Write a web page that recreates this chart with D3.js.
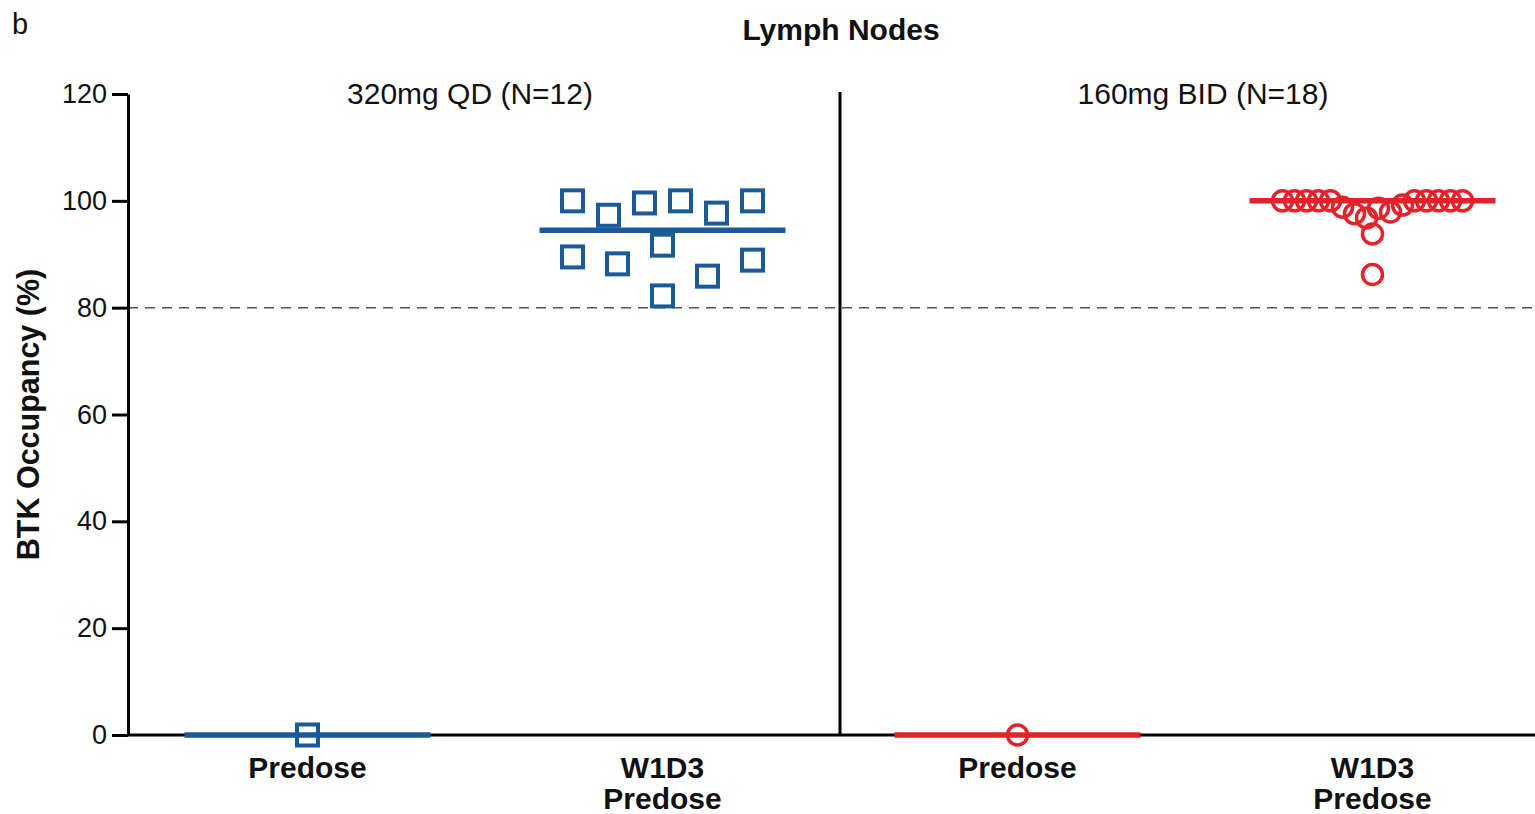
<!DOCTYPE html>
<html>
<head>
    <title>BTK Occupancy - Lymph Nodes</title>
    <script src="https://d3js.org/d3.v7.min.js"></script>
    <style>
        body { margin: 0; background: #fff; }
        text { font-family: "Liberation Sans", Arial, sans-serif; fill: #111; }
    </style>
</head>
<body>
    <script>
        // data (patients kept in plotted order)
        var categories = ["QD-Predose", "QD-W1D3", "BID-Predose", "BID-W1D3"];
        var tickLabels = [["Predose"], ["W1D3", "Predose"], ["Predose"], ["W1D3", "Predose"]];
        var panelLabels = ["320mg QD (N=12)", "160mg BID (N=18)"];
        var yTicks = [0, 20, 40, 60, 80, 100, 120];
        var threshold = 80;

        // predose occupancy is 0 for every patient (drawn as one marker)
        var qdPredose = [0];
        var qdW1D3 = [89.5, 100, 97.3, 88.2, 99.6, 91.7, 82.2, 100, 85.9, 97.7, 100, 88.9];
        var bidPredose = [0];
        var bidW1D3 = [100, 100, 100, 100, 100, 98.8, 97.6, 96.8, 93.8, 86.2,
                       98.6, 97.9, 99.2, 100, 100, 100, 100, 100];

        var groups = [
            {cat: categories[0], values: qdPredose, shape: "square", color: "#1b5a98"},
            {cat: categories[1], values: qdW1D3, shape: "square", color: "#1b5a98"},
            {cat: categories[2], values: bidPredose, shape: "circle", color: "#e3222a"},
            {cat: categories[3], values: bidW1D3, shape: "circle", color: "#e3222a"}
        ];

        var width = 1535, height = 814;
        var svg = d3.select("body").append("svg")
                    .attr("width", width)
                    .attr("height", height);

        var y = d3.scaleLinear().domain([0, 120]).range([735, 94]);
        var x = d3.scalePoint().domain(categories).range([130, 1550]).padding(0.5);

        // dashed 80% line
        svg.append("line")
           .attr("x1", 128).attr("x2", width)
           .attr("y1", y(threshold)).attr("y2", y(threshold))
           .attr("stroke", "#555").attr("stroke-width", 1.5)
           .attr("stroke-dasharray", "10,7");

        // y axis
        var yAxis = svg.append("g")
                       .attr("transform", "translate(128,0)")
                       .call(d3.axisLeft(y).tickValues(yTicks).tickSize(16).tickSizeOuter(0).tickPadding(5));
        yAxis.select(".domain").attr("stroke", "#000").attr("stroke-width", 3);
        yAxis.selectAll(".tick line").attr("stroke", "#000").attr("stroke-width", 3);
        yAxis.selectAll(".tick text")
             .attr("font-size", 27)
             .attr("font-family", "Liberation Sans, Arial, sans-serif")
             .attr("fill", "#222");

        // x axis line
        svg.append("line")
           .attr("x1", 127).attr("x2", width)
           .attr("y1", y(0)).attr("y2", y(0))
           .attr("stroke", "#000").attr("stroke-width", 3);

        // separator between the two dose panels
        var sepX = (x(categories[1]) + x(categories[2])) / 2;
        svg.append("line")
           .attr("x1", sepX).attr("x2", sepX)
           .attr("y1", y(120) - 2).attr("y2", y(0))
           .attr("stroke", "#000").attr("stroke-width", 3);

        // x labels
        svg.append("g").selectAll("text")
           .data(categories)
           .join("text")
           .attr("x", d => x(d))
           .attr("y", 778)
           .attr("text-anchor", "middle")
           .attr("font-size", 30)
           .attr("font-weight", "bold")
           .each(function(d, i) {
               var t = d3.select(this);
               tickLabels[i].forEach(function(line, j) {
                   t.append("tspan").attr("x", x(d)).attr("dy", j === 0 ? 0 : 31).text(line);
               });
           });

        // titles
        svg.append("text").attr("x", 12).attr("y", 34).attr("font-size", 29).text("b");
        svg.append("text").attr("x", sepX + 1).attr("y", 40)
           .attr("text-anchor", "middle").attr("font-size", 30).attr("font-weight", "bold")
           .text("Lymph Nodes");
        svg.append("text").attr("x", sepX - 370).attr("y", 104)
           .attr("text-anchor", "middle").attr("font-size", 30).attr("fill", "#333")
           .text(panelLabels[0]);
        svg.append("text").attr("x", sepX + 363).attr("y", 104)
           .attr("text-anchor", "middle").attr("font-size", 30).attr("fill", "#333")
           .text(panelLabels[1]);
        svg.append("text")
           .attr("transform", "translate(28," + ((y(0) + y(120)) / 2) + ") rotate(-90)")
           .attr("text-anchor", "middle").attr("dy", "0.35em")
           .attr("font-size", 30.5).attr("font-weight", "bold")
           .text("BTK Occupancy (%)");

        // Prism-like scatter: values grouped into rows (bins), each row spread
        // evenly and centred, patients kept in their data order
        function scatterRows(values, binSize, rowWidth, maxStep) {
            var pts = values.map((v, i) => ({v: v, i: i, py: y(v)}));
            var sorted = pts.slice().sort((a, b) => b.v - a.v);
            var rows = [];
            sorted.forEach(function(p) {
                var row = rows[rows.length - 1];
                if (row && row.top - p.v < binSize) row.items.push(p);
                else rows.push({top: p.v, items: [p]});
            });
            rows.forEach(function(row) {
                var n = row.items.length;
                var step = n > 1 ? Math.min(maxStep, rowWidth / (n - 1)) : 0;
                row.items.sort((a, b) => a.i - b.i)
                   .forEach((p, k) => { p.dx = (k - (n - 1) / 2) * step; });
            });
            return pts;
        }

        var halfLine = 123;
        groups.forEach(function(g) {
            var cx = x(g.cat);
            var med = d3.median(g.values);
            var gg = svg.append("g");

            gg.append("line")
              .attr("x1", cx - halfLine).attr("x2", cx + halfLine)
              .attr("y1", y(med)).attr("y2", y(med))
              .attr("stroke", g.color).attr("stroke-width", 5.5);

            var pts = scatterRows(g.values, 6, 180, 46);
            if (g.shape === "square") {
                gg.selectAll("rect").data(pts).join("rect")
                  .attr("x", d => cx + d.dx - 10.5)
                  .attr("y", d => d.py - 10.5)
                  .attr("width", 21).attr("height", 21)
                  .attr("fill", "none")
                  .attr("stroke", g.color).attr("stroke-width", 4);
            } else {
                gg.selectAll("circle").data(pts).join("circle")
                  .attr("cx", d => cx + d.dx)
                  .attr("cy", d => d.py)
                  .attr("r", 10)
                  .attr("fill", "none")
                  .attr("stroke", g.color).attr("stroke-width", 3.5);
            }
        });
    </script>
</body>
</html>
